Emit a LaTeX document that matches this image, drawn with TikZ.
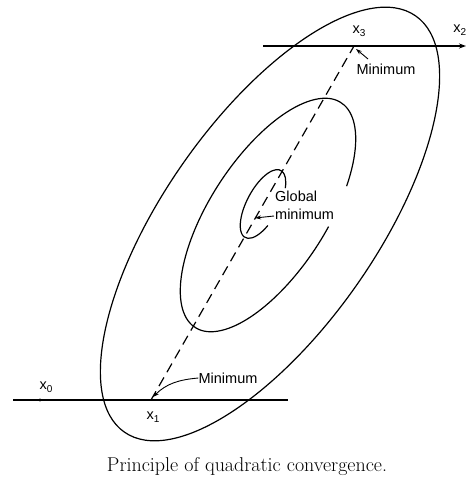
\documentclass[tikz,border=0pt]{standalone}
\usepackage{fontspec}
\setsansfont{Liberation Sans}
\usetikzlibrary{arrows.meta}
\newcommand{\sbs}[1]{\raisebox{-0.45ex}{\fontsize{10}{10}\selectfont #1}}
\begin{document}
\begin{tikzpicture}[x=1pt,y=1pt,
  lbl/.style={font=\sffamily\fontsize{14.5}{16}\selectfont, inner sep=0pt},
  contour/.style={line width=1.2pt},
  axisline/.style={line width=1.4pt},
  dashline/.style={line width=1.2pt, dash pattern=on 10pt off 6pt},
  tip/.style={-{Stealth[length=6pt,width=4pt]}, line width=0.9pt}]
\useasboundingbox (0,0) rectangle (467,480);
\clip (0,0) rectangle (467,480);
% contours
\begin{scope}[shift={(270,256)}, rotate=55]
  \draw[contour] (0,0) ellipse [x radius=254, y radius=106];
\end{scope}
\begin{scope}[shift={(268,265)}, rotate=57]
  \draw[contour] (-60:134 and 58) arc[start angle=-60, end angle=280, x radius=134, y radius=58];
\end{scope}
\begin{scope}[shift={(263,276)}, rotate=62]
  \draw[contour] (-50:38 and 16) arc[start angle=-50, end angle=244, x radius=38, y radius=16];
\end{scope}
% points
\coordinate (X0) at (40,80);
\coordinate (X1) at (151,80);
\coordinate (X3) at (354,434);
\coordinate (L0) at (13,80);
\coordinate (L1) at (288,80);
\coordinate (T0) at (263,434);
\coordinate (T1) at (466,434);
% lines
\draw[axisline] (L0) -- (L1);
\fill (X0) circle (1.6);
\draw[axisline, -{Stealth[length=7pt,width=5pt]}] (T0) -- (T1);
\draw[dashline] (X1) -- (X3);
% labels
\node[lbl] (lx0) at (46,93) {x\sbs{0}};
\node[lbl] (lx1) at (153,63) {x\sbs{1}};
\node[lbl] (lx3) at (359,449) {x\sbs{3}};
\node[lbl, anchor=east] (lx2) at (466.5,450) {x\sbs{2}};
\node[lbl] (m3) at (386,411) {Minimum};
\coordinate (a3) at (368,421);
\draw[tip] (a3) -- ([shift={(2,-3)}]X3);
\node[lbl] (m1) at (228,102) {Minimum};
\draw[tip] (m1.west) to[out=185, in=45] ([shift={(2,3)}]X1);
\node[lbl, anchor=base west] (g1) at (275,278) {Global};
\node[lbl, anchor=base west] (g2) at (275,260) {minimum};
\draw[tip] ([shift={(-1,4)}]g2.base west) -- ++(-19,-2);
\node[font=\rmfamily\fontsize{20}{23}\selectfont\addfontfeature{LetterSpace=5}, inner sep=0pt] (cap) at (247,13) {Principle of quadratic convergence.};
\end{tikzpicture}
\end{document}
